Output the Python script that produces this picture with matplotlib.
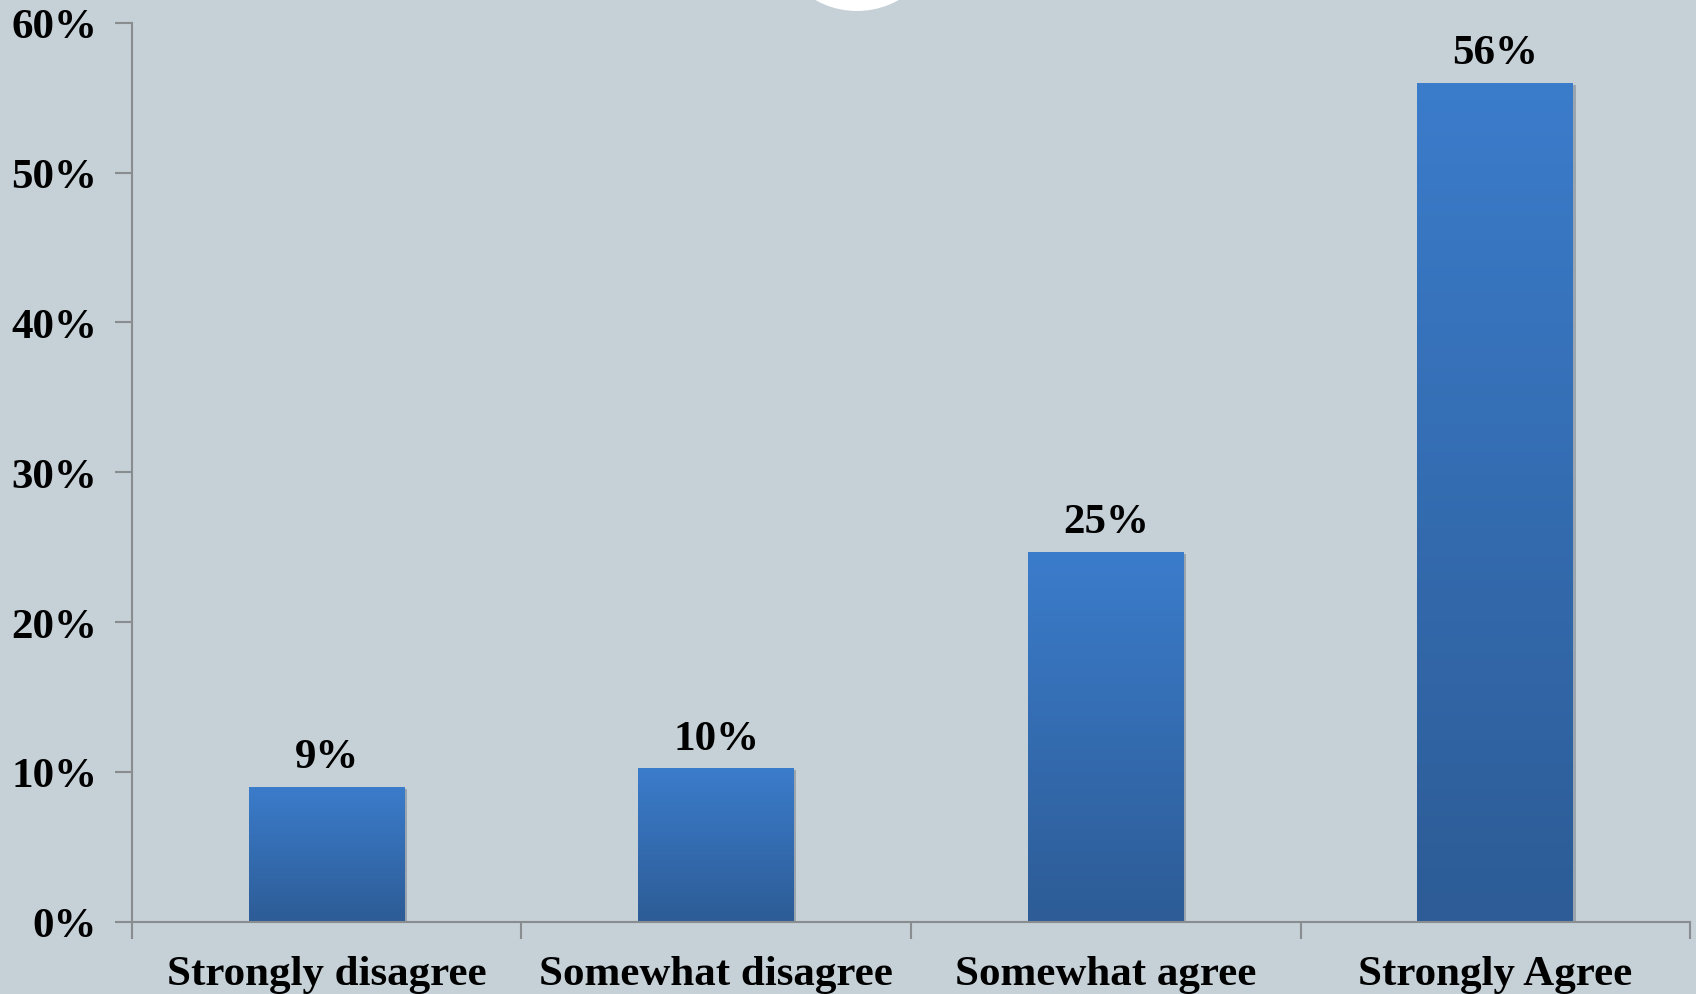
import numpy as np
import matplotlib
matplotlib.use("Agg")
import matplotlib.pyplot as plt
from matplotlib.patches import Circle
from matplotlib.ticker import MultipleLocator, FuncFormatter

categories = ["Strongly disagree", "Somewhat disagree", "Somewhat agree", "Strongly Agree"]
values = [9.0, 10.25, 24.7, 56.0]
value_labels = ["9%", "10%", "25%", "56%"]

BG = "#c5d0d7"
TOP = np.array([0x3b, 0x7c, 0xcb]) / 255
BOTTOM = np.array([0x2d, 0x5c, 0x96]) / 255
FONT = "Liberation Serif"
FS = 31

fig = plt.figure(figsize=(16.96, 9.95), dpi=100)
fig.patch.set_facecolor(BG)
ax = fig.add_axes([0.0778, 0.0728, 0.9187, 0.9032])
ax.set_facecolor(BG)

x = np.arange(len(categories))
width = 0.4
# gradient bars: plain bar for the shadow, then an image on top
grad = np.linspace(0, 1, 256)[:, None]
cols = TOP[None, None, :] * (1 - grad[..., None]) + BOTTOM[None, None, :] * grad[..., None]
for xi, v in zip(x, values):
    ax.bar(xi + 0.006, v, width, bottom=-0.15, color="#9aa5ad", zorder=1)
    ax.imshow(cols, extent=(xi - width / 2, xi + width / 2, 0, v), aspect="auto",
              origin="upper", zorder=2, interpolation="bilinear")

for xi, v, lab in zip(x, values, value_labels):
    ax.annotate(lab, (xi, v), xytext=(0, 14), textcoords="offset points",
                ha="center", va="baseline", fontsize=FS, fontweight="bold",
                family=FONT, color="black")

ax.set_xlim(-0.5, 3.5)
ax.set_ylim(0, 60)
ax.yaxis.set_major_locator(MultipleLocator(10))
ax.yaxis.set_major_formatter(FuncFormatter(lambda v, p: f"{v:.0f}%"))
ax.set_xticks(x)
ax.set_xticklabels(categories)
ax.set_xticks(np.arange(-0.5, 4.0, 1.0), minor=True)

for s in ["top", "right"]:
    ax.spines[s].set_visible(False)
for s in ["left", "bottom"]:
    ax.spines[s].set_color("#8a8d90")
    ax.spines[s].set_linewidth(1.5)
    ax.spines[s].set_zorder(3)

ax.tick_params(axis="y", length=12, width=1.5, color="#8a8d90", pad=13)
ax.tick_params(axis="x", which="major", length=0, pad=24)
ax.tick_params(axis="x", which="minor", length=12, width=1.5, color="#8a8d90")
for t in ax.get_xticklabels() + ax.get_yticklabels():
    t.set_fontfamily(FONT)
    t.set_fontweight("bold")
    t.set_fontsize(FS)

# white circle peeking in from the top edge
fig.patches.append(Circle((857, 995 + 73), 85, transform=None, facecolor="white",
                          edgecolor="none", zorder=5))

fig.savefig("out.png", dpi=100, facecolor=BG)
